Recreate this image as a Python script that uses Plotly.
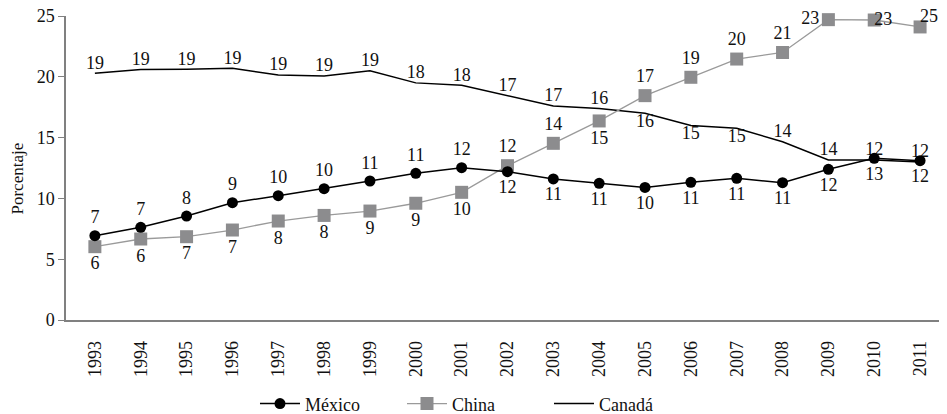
import plotly.graph_objects as go

years = [str(y) for y in range(1993, 2012)]
mexico = [6.93, 7.62, 8.55, 9.65, 10.22, 10.8, 11.43, 12.06, 12.53, 12.2, 11.6, 11.24, 10.9, 11.32, 11.65, 11.29, 12.39, 13.3, 13.1]
china = [6.03, 6.66, 6.85, 7.4, 8.14, 8.6, 8.96, 9.6, 10.5, 12.69, 14.53, 16.37, 18.45, 19.96, 21.46, 22.0, 24.7, 24.67, 24.1]
canada = [20.29, 20.6, 20.62, 20.7, 20.15, 20.07, 20.5, 19.5, 19.3, 18.45, 17.6, 17.4, 17.0, 16.0, 15.76, 14.66, 13.16, 13.16, 13.0]

mexico_labels = ["7", "7", "8", "9", "10", "10", "11", "11", "12", "12", "11", "11", "10", "11", "11", "11", "12", "13", "12"]
china_labels = ["6", "6", "7", "7", "8", "8", "9", "9", "10", "12", "14", "15", "17", "19", "20", "21", "23", "23", "25"]
canada_labels = ["19", "19", "19", "19", "19", "19", "19", "18", "18", "17", "17", "16", "16", "15", "15", "14", "14", "12", "12"]

mexico_pos = ["top center"] * 9 + ["bottom center"] * 10
china_pos = ["bottom center"] * 9 + ["top center", "top center", "bottom center"] + ["top center"] * 4 + ["middle left"]
china_tail_pos = ["middle right", "top right"]
canada_pos = ["top center"] * 12 + ["bottom center"] * 3 + ["top center"] * 4

FONT = "Liberation Serif"
lbl_font = dict(family=FONT, size=18, color="#111")
N_MAIN = 17  # China labels drawn on markers; the last two sit to the right of their points

fig = go.Figure()
fig.add_trace(go.Scatter(
    x=years, y=canada, name="Canadá", mode="lines+text",
    line=dict(color="black", width=1.5),
    text=canada_labels, textposition=canada_pos, textfont=lbl_font,
    cliponaxis=False,
))
fig.add_trace(go.Scatter(
    x=years, y=china, name="China", mode="lines+markers+text",
    line=dict(color="#9a9a9a", width=1.3),
    marker=dict(symbol="square", size=13, color="#8c8c8e"),
    text=china_labels[:N_MAIN] + [""] * (len(years) - N_MAIN),
    textposition=china_pos + ["top center"] * (len(years) - N_MAIN),
    textfont=lbl_font, cliponaxis=False,
))
fig.add_trace(go.Scatter(
    x=years[N_MAIN:], y=china[N_MAIN:], mode="text", showlegend=False,
    text=china_labels[N_MAIN:], textposition=china_tail_pos, textfont=lbl_font,
    cliponaxis=False, hoverinfo="skip",
))
fig.add_trace(go.Scatter(
    x=years, y=mexico, name="México", mode="lines+markers+text",
    line=dict(color="black", width=1.5),
    marker=dict(symbol="circle", size=11, color="black"),
    text=mexico_labels, textposition=mexico_pos, textfont=lbl_font,
    cliponaxis=False,
))

fig.add_annotation(
    text="Porcentaje", textangle=-90, xref="paper", yref="paper",
    x=-0.0552, y=0.464, xanchor="center", yanchor="middle", showarrow=False,
    font=dict(family=FONT, size=17, color="#111"),
)

fig.update_layout(
    width=939, height=406,
    margin=dict(l=58, r=4, t=8, b=94, autoexpand=False),
    plot_bgcolor="white", paper_bgcolor="white",
    font=dict(family=FONT, size=18, color="#111"),
    showlegend=True,
    legend=dict(orientation="h", x=0.2155, xanchor="left", y=-0.276, yanchor="middle",
                traceorder="reversed", font=dict(family=FONT, size=18),
                itemwidth=40, entrywidth=92, entrywidthmode="pixels",
                bgcolor="rgba(0,0,0,0)"),
    xaxis=dict(
        type="category", range=[-0.63, 18.5], automargin=False,
        showgrid=False, zeroline=False,
        showline=True, linecolor="#808080", linewidth=1.5,
        ticks="outside", ticklen=12, tickcolor="rgba(0,0,0,0)", tickangle=-90,
        tickfont=dict(family=FONT, size=18), ticklabeloverflow="allow",
    ),
    yaxis=dict(
        range=[0, 25], tickvals=[0, 5, 10, 15, 20, 25], automargin=False,
        showgrid=False, zeroline=False,
        showline=True, linecolor="#808080", linewidth=1.5,
        ticks="outside", ticklen=6, tickcolor="#808080",
        tickfont=dict(family=FONT, size=18), ticklabeloverflow="allow",
    ),
)

fig.write_html("out.html")
